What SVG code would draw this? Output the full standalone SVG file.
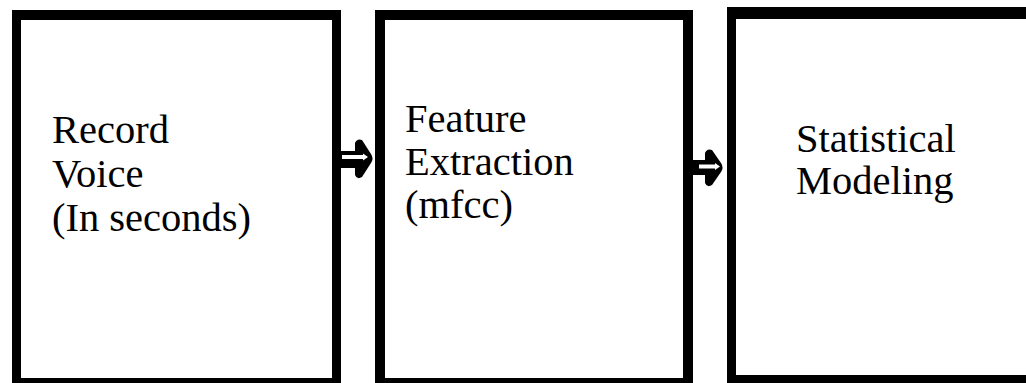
<svg xmlns="http://www.w3.org/2000/svg" width="1026" height="383" viewBox="0 0 1026 383">
<style>
.frame{fill:#000;fill-rule:evenodd}
.lbl{font-family:"Liberation Serif","Times New Roman",serif;font-size:40.5px;fill:#000}
.arr{fill:#000}
.arrin{fill:#fff}
</style>
<rect width="1026" height="383" fill="#fff"/>
<g id="node-record">
<path class="frame" d="M12,10 H341 V390 H12 Z M21,20 V378 H332 V20 Z"/>
<text class="lbl" x="52" y="143">Record</text>
<text class="lbl" x="52" y="187">Voice</text>
<text class="lbl" x="52" y="231">(In seconds)</text>
</g>
<g id="node-feature">
<path class="frame" d="M375,10 H693 V390 H375 Z M385,20 V378 H683 V20 Z"/>
<text class="lbl" x="405" y="132">Feature</text>
<text class="lbl" x="405" y="175">Extraction</text>
<text class="lbl" x="405" y="218">(mfcc)</text>
</g>
<g id="node-statistical">
<path class="frame" d="M727,7 H1040 V392 H727 Z M736,19 V375 H1030 V19 Z"/>
<text class="lbl" x="796" y="152">Statistical</text>
<text class="lbl" x="796" y="194">Modeling</text>
</g>
<g id="connectors">
<g id="arrow-1">
<path class="arr" d="M340,151 L355,151 L355,143 Q357,138 362,140 L371,154 Q374,158.5 371,163 L362,177 Q357,180 355,175 L355,168 L340,168 Z"/>
<path class="arrin" d="M342,155 L363,155 L363,153.5 L368,157 L363,160.5 L363,159 L342,159 Z"/>
</g>
<g id="arrow-2">
<path class="arr" d="M692,160 L705,160 L705,153 Q707,148 712,150 L721,163 Q724,167.5 721,172 L712,185 Q707,188 705,183 L705,175 L692,175 Z"/>
<path class="arrin" d="M699,164.5 L715,164.5 L715,163 L720,166.5 L715,170 L715,168.5 L699,168.5 Z"/>
</g>
</g>
</svg>
